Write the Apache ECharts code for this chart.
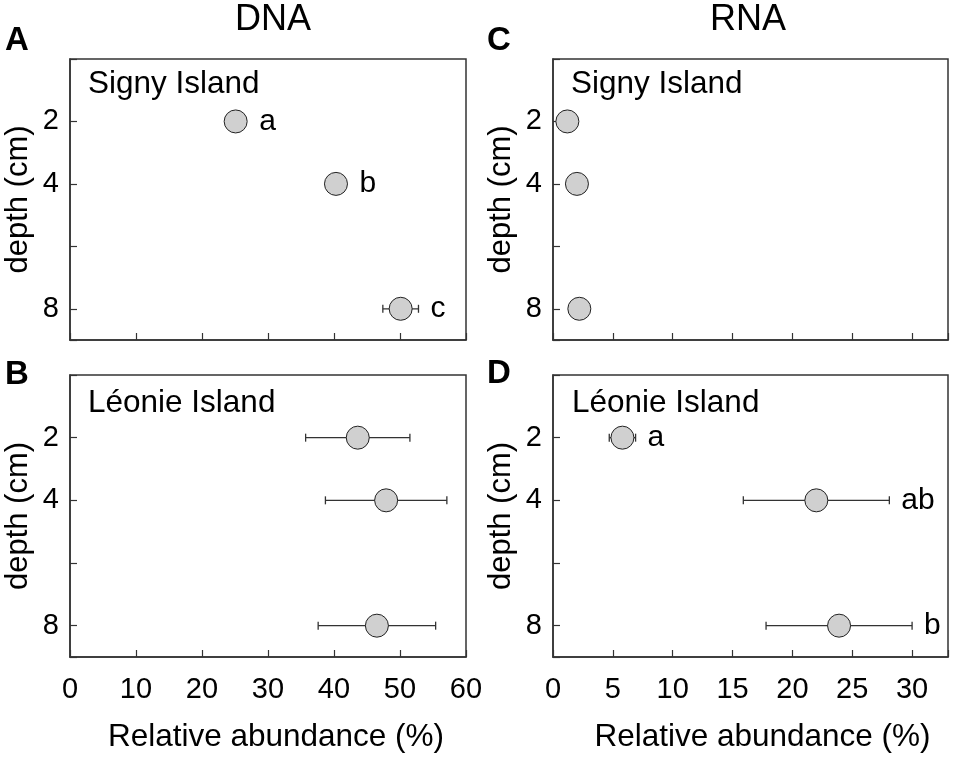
<!DOCTYPE html>
<html>
<head>
<meta charset="utf-8">
<script src="https://cdn.jsdelivr.net/npm/echarts@6/dist/echarts.min.js"></script>
<style>
html,body{margin:0;padding:0;background:#fff;}
#chart{width:955px;height:766px;}
</style>
</head>
<body>
<div id="chart"></div>
<script>
// ---- data ----
var depths = [2, 4, 8];
var yTickLabels = [2, 4, 8];

var dnaSignyMean = [25.1, 40.3, 50.1];
var dnaSignyErr = [0.5, 0.5, 2.7];
var dnaSignyLetters = ['a', 'b', 'c'];

var dnaLeonieMean = [43.6, 47.9, 46.5];
var dnaLeonieErr = [7.9, 9.2, 8.9];
var dnaLeonieLetters = ['', '', ''];

var rnaSignyMean = [1.2, 2.0, 2.2];
var rnaSignyErr = [0.2, 0.2, 0.2];
var rnaSignyLetters = ['', '', ''];

var rnaLeonieMean = [5.8, 22.0, 23.9];
var rnaLeonieErr = [1.1, 6.1, 6.1];
var rnaLeonieLetters = ['a', 'ab', 'b'];

var columnTitles = ['DNA', 'RNA'];
var panelLetters = ['A', 'B', 'C', 'D'];
var siteNames = ['Signy Island', 'Léonie Island'];
var xAxisName = 'Relative abundance (%)';
var yAxisName = 'depth (cm)';

// ---- styling ----
var FONT = '"Liberation Sans", Arial, sans-serif';
var INK = '#222';

var panels = [
  {grid: {left: 70, top: 59, width: 396, height: 281}, xmax: 60, xint: 10, xlabels: false, mean: dnaSignyMean, err: dnaSignyErr, letters: dnaSignyLetters},
  {grid: {left: 70, top: 375, width: 396, height: 282}, xmax: 60, xint: 10, xlabels: true, mean: dnaLeonieMean, err: dnaLeonieErr, letters: dnaLeonieLetters, namePad: 16},
  {grid: {left: 553, top: 59, width: 395, height: 281}, xmax: 33, xint: 5, xlabels: false, mean: rnaSignyMean, err: rnaSignyErr, letters: rnaSignyLetters},
  {grid: {left: 553, top: 375, width: 395, height: 282}, xmax: 33, xint: 5, xlabels: true, mean: rnaLeonieMean, err: rnaLeonieErr, letters: rnaLeonieLetters, namePad: 24}
];

var grids = [], xAxes = [], yAxes = [], series = [];
panels.forEach(function (p, i) {
  grids.push(Object.assign({show: true, borderColor: '#333', borderWidth: 1.5, backgroundColor: 'transparent'}, p.grid));
  xAxes.push({
    type: 'value', gridIndex: i, min: 0, max: p.xmax, interval: p.xint, position: 'bottom',
    splitLine: {show: false},
    axisLine: {show: true, onZero: false, lineStyle: {color: '#333', width: 1.5}},
    axisTick: {show: true, inside: true, length: 7, lineStyle: {color: '#333', width: 1.2}},
    axisLabel: {
      show: p.xlabels, margin: 18, fontSize: 29, fontFamily: FONT, color: '#000',
      formatter: function (v) { return v > (p.xmax === 60 ? 60 : 30) ? '' : String(v); }
    },
    name: p.xlabels ? xAxisName : '',
    nameLocation: 'middle', nameGap: 64,
    nameTextStyle: {fontSize: 31.5, fontFamily: FONT, color: '#000', padding: [0, 0, 0, p.namePad || 0]}
  });
  yAxes.push({
    type: 'value', gridIndex: i, min: 0, max: 9, interval: 2, inverse: true, position: 'left',
    splitLine: {show: false},
    axisLine: {show: true, onZero: false, lineStyle: {color: '#333', width: 1.5}},
    axisTick: {show: true, inside: true, length: 7, lineStyle: {color: '#333', width: 1.2}},
    axisLabel: {
      margin: 11, fontSize: 29, fontFamily: FONT, color: '#000',
      formatter: function (v) { return yTickLabels.indexOf(v) >= 0 ? String(v) : ''; }
    },
    name: yAxisName, nameLocation: 'middle', nameRotate: 90, nameGap: 36,
    nameTextStyle: {fontSize: 31, fontFamily: FONT, color: '#000'}
  });

  var pts = depths.map(function (d, k) { return [p.mean[k], d, p.err[k]]; });

  series.push({
    type: 'custom', xAxisIndex: i, yAxisIndex: i, z: 1, silent: true,
    data: pts,
    renderItem: function (params, api) {
      var m = api.value(0), d = api.value(1), e = api.value(2);
      var c = api.coord([m, d]);
      var lo = api.coord([m - e, d]);
      var hi = api.coord([m + e, d]);
      var cap = 4;
      var ls = {stroke: '#333', lineWidth: 1.3};
      var letter = p.letters[params.dataIndex];
      var lx = Math.max(hi[0], c[0] + 11.5) + 12;
      return {
        type: 'group',
        children: [
          {type: 'line', shape: {x1: lo[0], y1: c[1], x2: hi[0], y2: c[1]}, style: ls},
          {type: 'line', shape: {x1: lo[0], y1: c[1] - cap, x2: lo[0], y2: c[1] + cap}, style: ls},
          {type: 'line', shape: {x1: hi[0], y1: c[1] - cap, x2: hi[0], y2: c[1] + cap}, style: ls},
          {type: 'text', x: lx, y: c[1], style: {text: letter, fontSize: 30, fontFamily: FONT, fill: '#000', align: 'left', verticalAlign: 'middle'}}
        ]
      };
    }
  });
  series.push({
    type: 'scatter', xAxisIndex: i, yAxisIndex: i, z: 3, silent: true,
    symbol: 'circle', symbolSize: 23,
    itemStyle: {color: '#d0d0d0', borderColor: INK, borderWidth: 1, opacity: 1},
    data: pts.map(function (q) { return [q[0], q[1]]; })
  });
});

function txt(s, x, y, size, opts) {
  var st = Object.assign({text: s, fontSize: size, fontFamily: FONT, fill: '#000', align: 'left', verticalAlign: 'middle'}, opts || {});
  return {type: 'text', x: x, y: y, silent: true, style: st};
}

var graphics = [
  txt(columnTitles[0], 273, 20, 36, {align: 'center'}),
  txt(columnTitles[1], 748, 20, 36, {align: 'center'}),
  txt(panelLetters[0], 5, 41, 33, {fontWeight: 'bold'}),
  txt(panelLetters[1], 5, 375, 33, {fontWeight: 'bold'}),
  txt(panelLetters[2], 487, 41, 33, {fontWeight: 'bold'}),
  txt(panelLetters[3], 487, 374, 33, {fontWeight: 'bold'}),
  txt(siteNames[0], 88, 84, 31.5),
  txt(siteNames[1], 88, 403, 31.5),
  txt(siteNames[0], 571, 84, 31.5),
  txt(siteNames[1], 572, 403, 31.5)
];

var chart = echarts.init(document.getElementById('chart'), null, {renderer: 'canvas'});
chart.setOption({
  backgroundColor: '#fff',
  animation: false,
  grid: grids,
  xAxis: xAxes,
  yAxis: yAxes,
  series: series,
  graphic: graphics
});
</script>
</body>
</html>
